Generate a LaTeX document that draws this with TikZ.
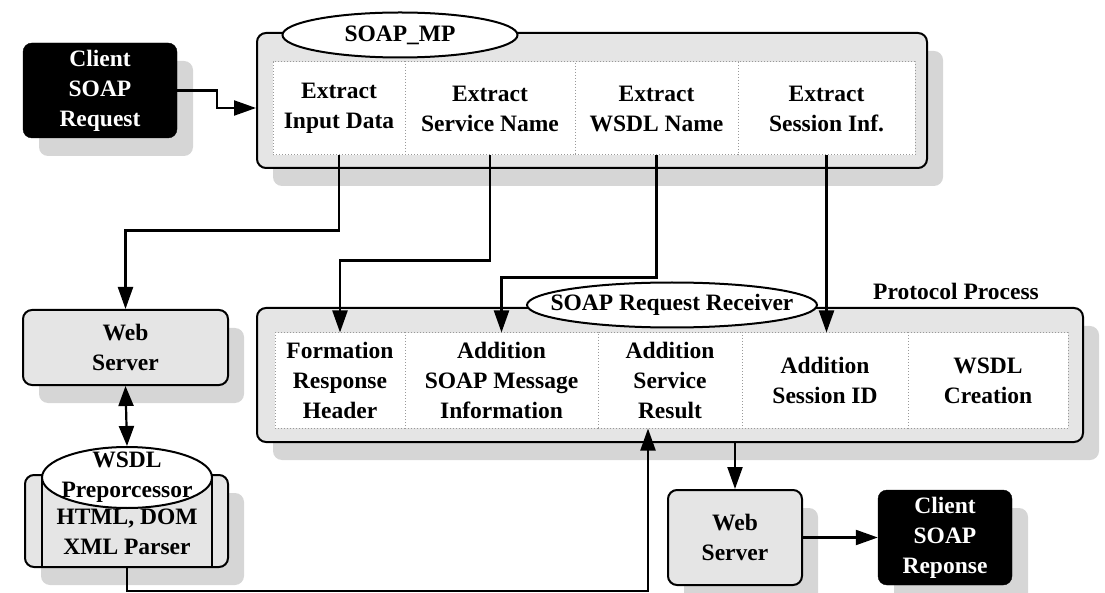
\documentclass[tikz,border=0pt]{standalone}
\usepackage{fontspec}
\setmainfont{Liberation Serif}
\usetikzlibrary{shadows,arrows.meta,calc,shapes.geometric}
\begin{document}
\begin{tikzpicture}[x=1pt,y=-1pt,
  txt/.style={font=\bfseries\fontsize{23.5}{30}\selectfont, align=center},
  outer/.style={draw=black, line width=2pt, rounded corners=9pt, fill=gray!20, inner sep=0pt,
    drop shadow={shadow xshift=16pt, shadow yshift=-18pt, fill=gray!32, opacity=1}},
  cell/.style={txt, draw=gray!80, dotted, line width=1pt, fill=white, inner sep=0pt},
  ell/.style={ellipse, draw=black, line width=2pt, fill=white, inner sep=0pt},
  dark/.style={txt, rounded corners=9pt, fill=black, text=white, draw=black, inner sep=0pt,
    drop shadow={shadow xshift=16pt, shadow yshift=-18pt, fill=gray!32, opacity=1}},
  graybox/.style={txt, draw=black, line width=2pt, rounded corners=9pt, fill=gray!20, inner sep=0pt,
    drop shadow={shadow xshift=16pt, shadow yshift=-18pt, fill=gray!32, opacity=1}},
  arr/.style={line width=2.2pt, -{Triangle[length=22pt,width=15pt]}},
  darr/.style={line width=2.2pt, {Triangle[length=20pt,width=15pt]}-{Triangle[length=20pt,width=15pt]}},
  lbl/.style={txt}
]
\useasboundingbox (0,0) rectangle (1105,593);

% Client request
\node[dark, minimum width=154pt, minimum height=95pt] (creq) at (100,90.5) {Client\\SOAP\\Request};

% SOAP_MP box
\node[outer, minimum width=670pt, minimum height=135pt] (mp) at (592,100.5) {};
\node[cell, minimum width=132pt, minimum height=93pt] (inp) at (339,108.5) {Extract\\Input Data};
\node[cell, minimum width=170pt, minimum height=93pt] (svc) at (490,108.5) {Extract\\Service Name};
\node[cell, minimum width=163pt, minimum height=93pt] (wsdl) at (656.5,108.5) {Extract\\WSDL Name};
\node[cell, minimum width=177pt, minimum height=93pt] (sess) at (826.5,108.5) {Extract\\Session Inf.};
\node[ell, minimum width=235pt, minimum height=45pt, label={[txt]center:SOAP\_MP}] (mpe) at (400,35) {};

% Protocol Process box
\node[outer, minimum width=826pt, minimum height=134pt] (pp) at (670,375) {};
\node[cell, minimum width=130pt, minimum height=95pt] (form) at (340,380.5) {Formation\\Response\\Header};
\node[cell, minimum width=193pt, minimum height=95pt] (addsoap) at (501.5,380.5) {Addition\\SOAP Message\\Information};
\node[cell, minimum width=144pt, minimum height=95pt] (addsvc) at (670,380.5) {Addition\\Service\\Result};
\node[cell, minimum width=166pt, minimum height=95pt] (addsess) at (825,380.5) {Addition\\Session ID};
\node[cell, minimum width=160pt, minimum height=95pt] (wsdlc) at (988,380.5) {WSDL\\Creation};
\node[ell, minimum width=290pt, minimum height=45pt, label={[txt]center:SOAP Request Receiver}] (sre) at (672,305) {};
\node[lbl] (ppl) at (956,291) {Protocol Process};

% Web server left
\node[graybox, minimum width=205pt, minimum height=75pt] (ws1) at (125.5,347.5) {Web\\Server};

% WSDL preprocessor
\node[graybox, minimum width=203pt, minimum height=92pt] (wpo) at (126.5,521) {};
\node[draw=black, line width=2pt, fill=gray!20, minimum width=170pt, minimum height=89pt, inner sep=0pt] (wpi) at (127,522.5) {};
\node[ell, minimum width=170pt, minimum height=61pt, label={[txt]center:WSDL\\Preporcessor}] (wpe) at (127,477.5) {};
\node[txt] (wpt) at (127,532) {HTML, DOM\\XML Parser};

% Web server right and client response
\node[graybox, minimum width=134pt, minimum height=95pt] (ws2) at (735,537.5) {Web\\Server};
\node[dark, minimum width=134pt, minimum height=95pt] (cresp) at (945,537.5) {Client\\SOAP\\Reponse};

% connectors
\draw[arr] (creq.east) -- ++(40,0) |- ($(mp.west)+(0,7.5)$);
\draw[arr] (inp.south) -- ++(0,75) -| (ws1.north);
\draw[arr] (svc.south) -- ++(0,105) -| (form.north);
\draw[arr] (wsdl.south) -- ++(0,122) -| (addsoap.north);
\draw[arr] (sess.south) -- (sess.south |- addsess.north);
\draw[darr] (ws1.south) -- (wpe.north);
\coordinate (rin) at ($(addsvc.south)+(-22,0)$);
\draw[arr] (wpi.south) -- ++(0,23) -| (rin);
\draw[arr] (ws2.north |- pp.south) -- (ws2.north);
\draw[arr] (ws2.east) -- (cresp.west);
\end{tikzpicture}
\end{document}
